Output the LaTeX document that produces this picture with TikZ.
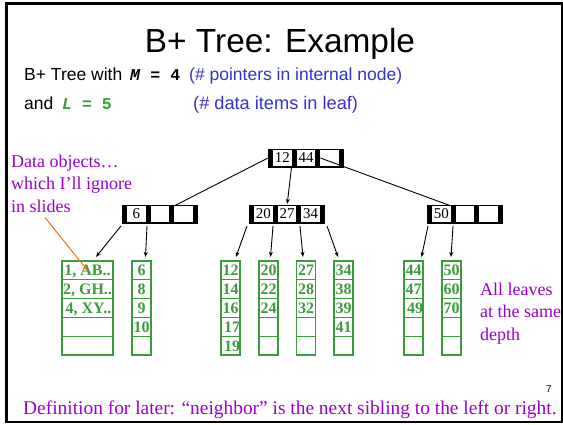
\documentclass[tikz,border=0pt]{standalone}
\usepackage{fontspec}
\setmainfont{Liberation Serif}
\newfontfamily\arialf{Liberation Sans}
\newfontfamily\courf{Liberation Mono}
\usetikzlibrary{arrows.meta,calc}
\definecolor{purp}{RGB}{153,0,204}
\definecolor{bluet}{RGB}{51,51,204}
\definecolor{leafg}{RGB}{60,155,60}
\definecolor{orng}{RGB}{255,102,0}
\newcommand\inode[6]{%
  \node[ibox] (#1) at (#2,#3) {};
  \node[icell] (#1-1) at ($(#1)+(-23.7,0)$) {#4};
  \node[icell] (#1-2) at (#1) {#5};
  \node[icell] (#1-3) at ($(#1)+(23.7,0)$) {#6};
}
\newcommand\leafbox[8]{%
  \node[lcell,minimum width=#3] (#1-1) at (#2,270.4) {#4};
  \node[lcell,minimum width=#3] (#1-2) at (#2,289.2) {#5};
  \node[lcell,minimum width=#3] (#1-3) at (#2,308.0) {#6};
  \node[lcell,minimum width=#3] (#1-4) at (#2,326.8) {#7};
  \node[lcell,minimum width=#3] (#1-5) at (#2,345.6) {#8};
}
\begin{document}
\begin{tikzpicture}[x=1pt,y=-1pt,
  ibox/.style={fill=black, minimum width=76.1pt, minimum height=19pt, inner sep=0pt, outer sep=0pt},
  icell/.style={fill=white, minimum width=18.7pt, minimum height=16.4pt, inner sep=0pt, outer sep=0pt, font=\fontsize{15}{15}\selectfont},
  lcell/.style={draw=leafg, line width=1.2pt, minimum height=18.8pt, inner sep=0pt, text=leafg, font=\bfseries\fontsize{16}{16}\selectfont, text height=10.8pt, text depth=0pt},
  cline/.style={line width=0.9pt},
  arr/.style={-{Stealth[length=5pt,width=4pt]}, line width=0.9pt},
  orarr/.style={-{Stealth[length=5pt,width=4pt]}, line width=0.9pt, draw=orng, fill=orng},
  txt/.style={anchor=base west, inner sep=0pt},
  sans/.style={font=\arialf\fontsize{17.5}{20}\selectfont},
  mono/.style={font=\courf\bfseries\fontsize{16.5}{20}\selectfont},
  purptxt/.style={text=purp, align=left, inner sep=0pt, font=\fontsize{18}{22.5}\selectfont}
]
\useasboundingbox (0,0) rectangle (563,424);
% frame
\draw[line width=2pt] (6.7,3.6) rectangle (562,421.7);
\draw[line width=3.4pt] (6.7,2) -- (6.7,423);
\draw[line width=3.5pt] (5,3.6) -- (563,3.6);
% title and header lines
\node[anchor=base, inner sep=0pt, font=\arialf\fontsize{33.4}{34}\selectfont] (title) at (280,52) {B+ Tree: Example};
\node[txt, sans] (l1a) at (24,80) {B+ Tree with};
\node[txt, mono] (l1m) at (130,80) {\textit{M} = 4};
\node[txt, sans, text=bluet] (l1b) at (189,80) {(\# pointers in internal node)};
\node[txt, sans] (l2a) at (24,109) {and};
\node[txt, mono, text=leafg] (l2m) at (62,109) {\textit{L} = 5};
\node[txt, sans, text=bluet, font=\arialf\fontsize{18.2}{20}\selectfont] (l2b) at (193,109) {(\# data items in leaf)};
% purple notes
\node[purptxt, anchor=north west] (dobj) at (11,154.5) {Data objects…\\which I’ll ignore\\in slides};
\node[purptxt, anchor=north west] (allv) at (480,282.5) {All leaves\\at the same\\depth};
\node[txt, text=purp, font=\fontsize{19.4}{22}\selectfont] (defn) at (23,414) {Definition for later: “neighbor” is the next sibling to the left or right.};
\node[anchor=base, inner sep=0pt, font=\arialf\fontsize{10}{10}\selectfont] (pnum) at (549,392) {7};
% internal nodes
\inode{root}{306}{158}{12}{44}{}
\inode{n6}{160}{214}{6}{}{}
\inode{n20}{287}{214}{20}{27}{34}
\inode{n50}{465}{214}{50}{}{}
% leaves
\leafbox{L1}{87.5}{51pt}{1, AB..}{2, GH..}{\kern2pt 4, XY..}{}{}
\leafbox{L2}{141.5}{19pt}{6}{8}{9}{10}{}
\leafbox{L3}{230.5}{19pt}{12}{14}{16}{\kern3pt 17}{\kern3pt 19}
\leafbox{L4}{268.5}{19pt}{20}{22}{24}{}{}
\leafbox{L5}{306}{19pt}{27}{28}{32}{}{}
\leafbox{L6}{343.5}{19pt}{34}{38}{39}{41}{}
\leafbox{L7}{413.5}{19pt}{44}{47}{\kern3pt 49}{}{}
\leafbox{L8}{451.5}{19pt}{50}{60}{70}{}{}
% root connectors
\draw[cline] (root.west) -- (n6-3.north west);
\draw[arr, shorten >=2pt] (root-1.south east) -- (n20-2.north);
\draw[cline] (root-3.west) -- (n50-1.north east);
% leaf connectors
\draw[arr] ($(n6.south west)+(-1,2.5)$) -- ($(L1-1.north)+(8.5,-3.5)$);
\draw[arr] ($(n6.south)+(-13,2.5)$) -- ($(L2-1.north)+(4,-3.5)$);
\draw[arr] ($(n20.south)+(-40,2.5)$) -- ($(L3-1.north)+(5.5,-3.5)$);
\draw[arr] ($(n20.south)+(-14,2.5)$) -- ($(L4-1.north)+(2,-3.5)$);
\draw[arr] ($(n20.south)+(13,2.5)$) -- ($(L5-1.north)+(-3,-3.5)$);
\draw[arr] ($(n20.south)+(40,2.5)$) -- ($(L6-1.north)+(-5.5,-3.5)$);
\draw[arr] ($(n50.south)+(-37,2.5)$) -- ($(L7-1.north)+(8,-3.5)$);
\draw[arr] ($(n50.south)+(-12,2.5)$) -- ($(L8-1.north)+(-0.5,-3.5)$);
% orange pointer
\draw[orarr] ($(dobj.south west)+(34,5)$) -- (L1-1.center);
\end{tikzpicture}
\end{document}
